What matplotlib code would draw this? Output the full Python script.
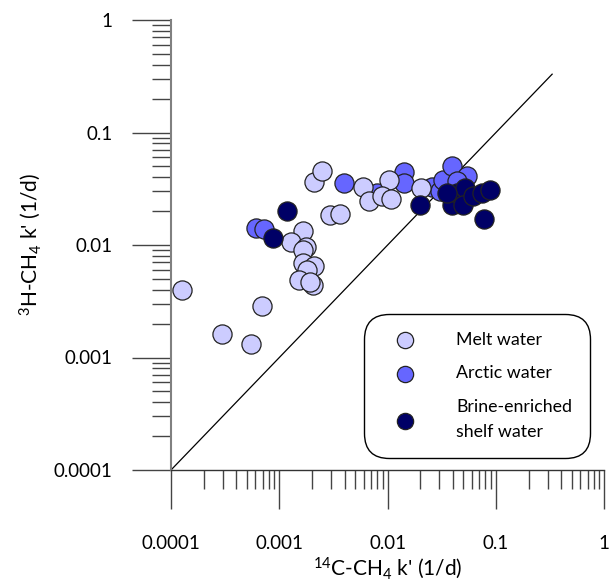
import matplotlib
matplotlib.use("Agg")
import matplotlib.pyplot as plt
from matplotlib.ticker import FixedLocator, LogLocator, NullFormatter
import numpy as np

plt.rcParams['font.family'] = ['Lato', 'DejaVu Sans']
plt.rcParams['mathtext.fontset'] = 'custom'
plt.rcParams['mathtext.rm'] = 'Lato'
plt.rcParams['mathtext.it'] = 'Lato:italic'

# melt water (14C k', 3H k')
melt_x = [1.26e-4, 2.96e-4, 5.45e-4, 6.97e-4, 1.67e-3, 1.28e-3, 1.75e-3, 1.64e-3,
          1.67e-3, 2.09e-3, 1.81e-3, 1.53e-3, 2.03e-3, 1.92e-3, 2.10e-3, 2.48e-3,
          2.94e-3, 3.63e-3, 5.89e-3, 6.69e-3, 0.0102, 8.87e-3, 0.0108, 0.0205]
melt_y = [0.0040, 0.00163, 0.00131, 0.00288, 0.0132, 0.0106, 0.0096, 0.0091,
          0.0069, 0.0065, 0.0060, 0.0049, 0.0044, 0.0047, 0.0361, 0.0453,
          0.0183, 0.0189, 0.0327, 0.0245, 0.0382, 0.0272, 0.0254, 0.0322]

# arctic water
arctic_x = [6.05e-4, 7.27e-4, 3.98e-3, 0.0142, 0.0143, 7.93e-3, 0.0255, 0.0305,
            0.0323, 0.0391, 0.0537, 0.0435]
arctic_y = [0.0143, 0.0139, 0.0357, 0.0444, 0.0357, 0.0291, 0.0329, 0.0301,
            0.0382, 0.0502, 0.0409, 0.0369]

# brine-enriched shelf water
brine_x = [1.18e-3, 8.81e-4, 0.0199, 0.0391, 0.0435, 0.0519, 0.0500, 0.0618,
           0.0740, 0.0882, 0.0782, 0.0352]
brine_y = [0.0200, 0.0116, 0.0229, 0.0229, 0.0291, 0.0322, 0.0229, 0.0272,
           0.0291, 0.0311, 0.0171, 0.0291]

fig = plt.figure(figsize=(6.11, 5.83), dpi=100)
ax = fig.add_axes([171 / 611, 113 / 583, 433.3 / 611, 450 / 583])
ax.set_xscale('log')
ax.set_yscale('log')
ax.set_xlim(1e-4, 1)
ax.set_ylim(1e-4, 1)

ax.plot([1e-4, 0.33], [1e-4, 0.33], color='black', lw=0.9, zorder=1)

ms = 190
ax.scatter(melt_x, melt_y, s=ms, c='#ccccff', edgecolors='#222222', linewidths=0.9,
           label='Melt water', zorder=3, clip_on=False)
ax.scatter(arctic_x, arctic_y, s=ms, c='#6666ff', edgecolors='#222222', linewidths=0.9,
           label='Arctic water', zorder=2, clip_on=False)
ax.scatter(brine_x, brine_y, s=ms, c='#000066', edgecolors='#222222', linewidths=0.9,
           label='Brine-enriched\nshelf water', zorder=4, clip_on=False)

for s in ['top', 'right']:
    ax.spines[s].set_visible(False)
ax.spines['left'].set_color('#808080')
ax.spines['left'].set_linewidth(1.5)
ax.spines['bottom'].set_color('#333333')
ax.spines['bottom'].set_linewidth(1.0)

majors = [1e-4, 1e-3, 1e-2, 1e-1, 1]
labels = ['0.0001', '0.001', '0.01', '0.1', '1']
for axis in (ax.xaxis, ax.yaxis):
    axis.set_major_locator(FixedLocator(majors))
    axis.set_minor_locator(LogLocator(base=10, subs=np.arange(2, 10)))
    axis.set_minor_formatter(NullFormatter())
ax.set_xticks(majors, labels)
ax.set_yticks(majors, labels)

ax.tick_params(axis='both', which='major', direction='out', length=28, width=1.0,
               color='#444444', labelsize=13.5)
ax.tick_params(axis='both', which='minor', direction='out', length=14, width=1.0,
               color='#444444')
ax.tick_params(axis='x', which='major', pad=19)
ax.tick_params(axis='y', which='major', pad=14)

ax.set_xlabel("$^{14}$C-CH$_4$ k' (1/d)", fontsize=15, labelpad=2)
ax.set_ylabel("$^{3}$H-CH$_4$ k' (1/d)", fontsize=15, labelpad=8)

leg = ax.legend(loc='lower right', bbox_to_anchor=(0.988, 0.007), fontsize=12.8,
                frameon=True, fancybox=True, borderpad=1.0, labelspacing=1.0,
                handletextpad=1.6, handlelength=2.6, markerscale=0.85,
                edgecolor='black', framealpha=1)
for t in leg.get_texts():
    t.set_linespacing(1.7)
leg.get_frame().set_linewidth(1.0)
leg.get_frame().set_boxstyle('round', pad=0, rounding_size=1.4)

fig.savefig('out.png', dpi=100)
